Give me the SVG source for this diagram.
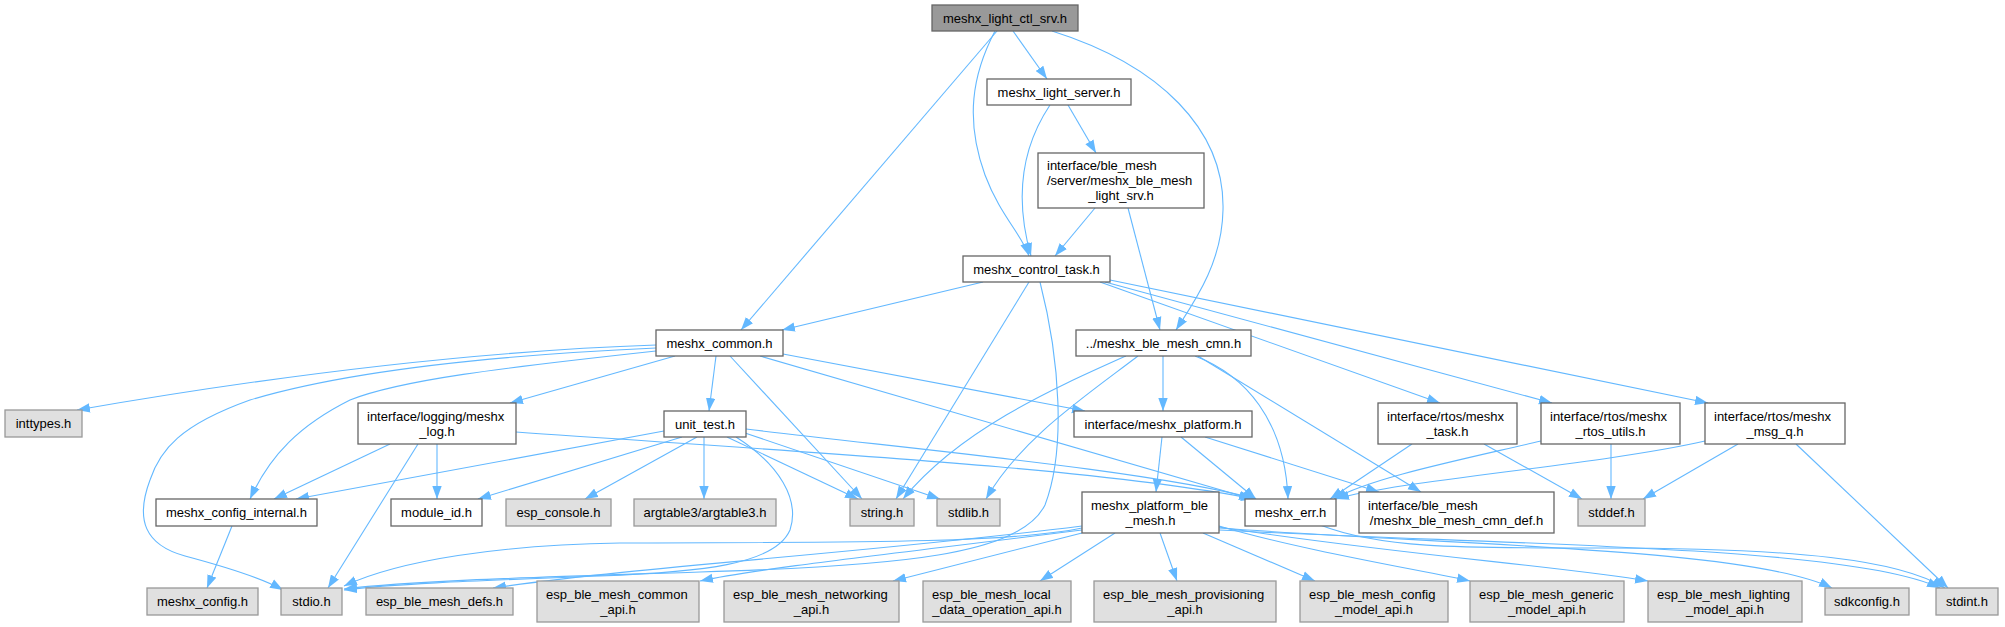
<svg xmlns="http://www.w3.org/2000/svg" width="2005" height="627" viewBox="0 0 2005 627">
<defs>
<marker id="ah" markerUnits="userSpaceOnUse" viewBox="0 0 13 10" refX="13" refY="5" markerWidth="13" markerHeight="10" orient="auto">
<path d="M0,0.3 L13,5 L0,9.7 z" fill="#63b8ff"/>
</marker>
<style>
.w rect{fill:#ffffff;stroke:#666666;stroke-width:1.3}
.g rect{fill:#e0e0e0;stroke:#999999;stroke-width:1.3}
.r rect{fill:#999999;stroke:#666666;stroke-width:1.3}
text{font-family:"Liberation Sans",Arial,Helvetica,sans-serif;font-size:13px;fill:#000000}
.m{text-anchor:middle}
.s{text-anchor:start}
#edges path{fill:none;stroke:#63b8ff;stroke-width:1.1;marker-end:url(#ah)}
</style>
</defs>
<rect width="2005" height="627" fill="#ffffff"/>
<g id="edges">
<path d="M997,31 L741,330"/>
<path d="M995,31 C972,75 965,120 985,175 C1000,215 1022,235 1029,256"/>
<path d="M1013,31 L1047,79"/>
<path d="M1052,31 C1160,65 1225,130 1223,210 C1222,265 1192,305 1176,330"/>
<path d="M1050,105 C1020,150 1015,200 1031,256"/>
<path d="M1068,105 L1096,153"/>
<path d="M1095,208 L1055,256"/>
<path d="M1128,208 L1160,330"/>
<path d="M983,282 L782,330"/>
<path d="M1029,282 L896,499"/>
<path d="M1040,282 C1060,360 1066,450 1045,505 C1020,555 900,566 700,572 C550,577 420,580 344,589"/>
<path d="M1100,282 L1440,403"/>
<path d="M1105,282 L1552,403"/>
<path d="M1110,280 L1708,403"/>
<path d="M656,345 C450,352 250,380 77,410"/>
<path d="M656,348 C500,355 350,370 250,400 C180,425 160,450 150,480 C135,520 145,545 185,556 C230,568 262,578 283,590"/>
<path d="M656,351 C500,368 400,380 350,400 C300,425 270,455 250,499"/>
<path d="M675,356 L510,403"/>
<path d="M716,356 L709,411"/>
<path d="M730,356 L862,499"/>
<path d="M760,356 L1252,499"/>
<path d="M783,354 L1085,411"/>
<path d="M390,444 L274,499"/>
<path d="M418,444 L328,588"/>
<path d="M437,444 L437,499"/>
<path d="M516,432 C800,452 1100,468 1254,499"/>
<path d="M664,431 L296,499"/>
<path d="M682,437 L478,499"/>
<path d="M697,437 L585,499"/>
<path d="M704,437 L704,499"/>
<path d="M727,437 L858,499"/>
<path d="M745,433 L940,499"/>
<path d="M746,429 C900,448 1150,470 1256,499"/>
<path d="M736,437 C780,465 800,500 790,530 C775,565 700,572 600,576 C500,580 400,583 344,590"/>
<path d="M1162,437 L1156,492"/>
<path d="M1181,437 L1256,499"/>
<path d="M1205,437 L1379,492"/>
<path d="M1126,356 C1050,390 960,430 903,499"/>
<path d="M1138,356 C1080,400 1020,440 986,499"/>
<path d="M1163,356 L1163,411"/>
<path d="M1195,356 C1245,375 1285,420 1288,499"/>
<path d="M1198,356 L1421,492"/>
<path d="M1412,444 L1330,499"/>
<path d="M1484,444 L1582,499"/>
<path d="M1541,441 C1460,460 1370,478 1334,499"/>
<path d="M1611,444 L1611,499"/>
<path d="M1705,441 C1600,465 1400,480 1336,499"/>
<path d="M1738,444 L1643,499"/>
<path d="M1796,444 L1948,588"/>
<path d="M1320,525 C1380,548 1450,548 1600,548 C1800,548 1900,560 1945,588"/>
<path d="M232,526 L207,588"/>
<path d="M1082,528 C1000,545 800,542 620,543 C500,545 400,560 344,586"/>
<path d="M1082,526 C850,555 650,565 493,588"/>
<path d="M1082,530 C900,553 760,568 700,581"/>
<path d="M1082,533 L893,581"/>
<path d="M1115,533 L1040,581"/>
<path d="M1160,533 L1177,581"/>
<path d="M1203,533 L1315,581"/>
<path d="M1219,526 C1300,550 1420,570 1470,581"/>
<path d="M1219,527 C1400,555 1560,566 1648,581"/>
<path d="M1219,528 C1450,545 1750,548 1832,588"/>
<path d="M1219,530 C1500,545 1850,545 1940,588"/>
</g>
<g id="n_root" class="r"><rect x="932" y="5" width="146" height="26"/><text class="m" x="1005" y="23">meshx_light_ctl_srv.h</text></g>
<g id="n_light_server" class="w"><rect x="987" y="79" width="144" height="26"/><text class="m" x="1059" y="97">meshx_light_server.h</text></g>
<g id="n_light_srv" class="w"><rect x="1038" y="153" width="166" height="55"/><text class="s" x="1047" y="170">interface/ble_mesh</text><text class="s" x="1047" y="185">/server/meshx_ble_mesh</text><text class="m" x="1121" y="200">_light_srv.h</text></g>
<g id="n_control_task" class="w"><rect x="963" y="256" width="147" height="26"/><text class="m" x="1036.5" y="274">meshx_control_task.h</text></g>
<g id="n_common" class="w"><rect x="656" y="330" width="127" height="26"/><text class="m" x="719.5" y="348">meshx_common.h</text></g>
<g id="n_cmn" class="w"><rect x="1076" y="330" width="175" height="26"/><text class="m" x="1163.5" y="348">../meshx_ble_mesh_cmn.h</text></g>
<g id="n_inttypes" class="g"><rect x="5" y="410" width="77" height="27"/><text class="m" x="43.5" y="428">inttypes.h</text></g>
<g id="n_log" class="w"><rect x="358" y="403" width="158" height="41"/><text class="s" x="367" y="421">interface/logging/meshx</text><text class="m" x="437" y="436">_log.h</text></g>
<g id="n_unit_test" class="w"><rect x="664" y="411" width="82" height="26"/><text class="m" x="705" y="429">unit_test.h</text></g>
<g id="n_platform" class="w"><rect x="1074" y="411" width="178" height="26"/><text class="m" x="1163" y="429">interface/meshx_platform.h</text></g>
<g id="n_rtos_task" class="w"><rect x="1378" y="403" width="139" height="41"/><text class="s" x="1387" y="421">interface/rtos/meshx</text><text class="m" x="1447.5" y="436">_task.h</text></g>
<g id="n_rtos_utils" class="w"><rect x="1541" y="403" width="139" height="41"/><text class="s" x="1550" y="421">interface/rtos/meshx</text><text class="m" x="1610.5" y="436">_rtos_utils.h</text></g>
<g id="n_msg_q" class="w"><rect x="1705" y="403" width="140" height="41"/><text class="s" x="1714" y="421">interface/rtos/meshx</text><text class="m" x="1775" y="436">_msg_q.h</text></g>
<g id="n_config_internal" class="w"><rect x="156" y="499" width="161" height="27"/><text class="m" x="236.5" y="517">meshx_config_internal.h</text></g>
<g id="n_module_id" class="w"><rect x="391" y="499" width="91" height="27"/><text class="m" x="436.5" y="517">module_id.h</text></g>
<g id="n_esp_console" class="g"><rect x="506" y="499" width="105" height="27"/><text class="m" x="558.5" y="517">esp_console.h</text></g>
<g id="n_argtable3" class="g"><rect x="634" y="499" width="142" height="27"/><text class="m" x="705" y="517">argtable3/argtable3.h</text></g>
<g id="n_string" class="g"><rect x="850" y="499" width="64" height="27"/><text class="m" x="882" y="517">string.h</text></g>
<g id="n_stdlib" class="g"><rect x="937" y="499" width="63" height="27"/><text class="m" x="968.5" y="517">stdlib.h</text></g>
<g id="n_platform_ble" class="w"><rect x="1082" y="492" width="137" height="41"/><text class="s" x="1091" y="510">meshx_platform_ble</text><text class="m" x="1150.5" y="525">_mesh.h</text></g>
<g id="n_err" class="w"><rect x="1245" y="499" width="91" height="27"/><text class="m" x="1290.5" y="517">meshx_err.h</text></g>
<g id="n_cmn_def" class="w"><rect x="1359" y="492" width="195" height="41"/><text class="s" x="1368" y="510">interface/ble_mesh</text><text class="m" x="1456.5" y="525">/meshx_ble_mesh_cmn_def.h</text></g>
<g id="n_stddef" class="g"><rect x="1578" y="499" width="67" height="27"/><text class="m" x="1611.5" y="517">stddef.h</text></g>
<g id="n_meshx_config" class="g"><rect x="147" y="588" width="111" height="27"/><text class="m" x="202.5" y="606">meshx_config.h</text></g>
<g id="n_stdio" class="g"><rect x="281" y="588" width="61" height="27"/><text class="m" x="311.5" y="606">stdio.h</text></g>
<g id="n_defs" class="g"><rect x="366" y="588" width="147" height="27"/><text class="m" x="439.5" y="606">esp_ble_mesh_defs.h</text></g>
<g id="n_common_api" class="g"><rect x="537" y="581" width="162" height="41"/><text class="s" x="546" y="599">esp_ble_mesh_common</text><text class="m" x="618" y="614">_api.h</text></g>
<g id="n_networking" class="g"><rect x="724" y="581" width="175" height="41"/><text class="s" x="733" y="599">esp_ble_mesh_networking</text><text class="m" x="811.5" y="614">_api.h</text></g>
<g id="n_local" class="g"><rect x="923" y="581" width="148" height="41"/><text class="s" x="932" y="599">esp_ble_mesh_local</text><text class="m" x="997" y="614">_data_operation_api.h</text></g>
<g id="n_provisioning" class="g"><rect x="1094" y="581" width="182" height="41"/><text class="s" x="1103" y="599">esp_ble_mesh_provisioning</text><text class="m" x="1185" y="614">_api.h</text></g>
<g id="n_config_model" class="g"><rect x="1300" y="581" width="148" height="41"/><text class="s" x="1309" y="599">esp_ble_mesh_config</text><text class="m" x="1374" y="614">_model_api.h</text></g>
<g id="n_generic" class="g"><rect x="1470" y="581" width="154" height="41"/><text class="s" x="1479" y="599">esp_ble_mesh_generic</text><text class="m" x="1547" y="614">_model_api.h</text></g>
<g id="n_lighting" class="g"><rect x="1648" y="581" width="154" height="41"/><text class="s" x="1657" y="599">esp_ble_mesh_lighting</text><text class="m" x="1725" y="614">_model_api.h</text></g>
<g id="n_sdkconfig" class="g"><rect x="1825" y="588" width="84" height="27"/><text class="m" x="1867" y="606">sdkconfig.h</text></g>
<g id="n_stdint" class="g"><rect x="1936" y="588" width="62" height="27"/><text class="m" x="1967" y="606">stdint.h</text></g>
</svg>
